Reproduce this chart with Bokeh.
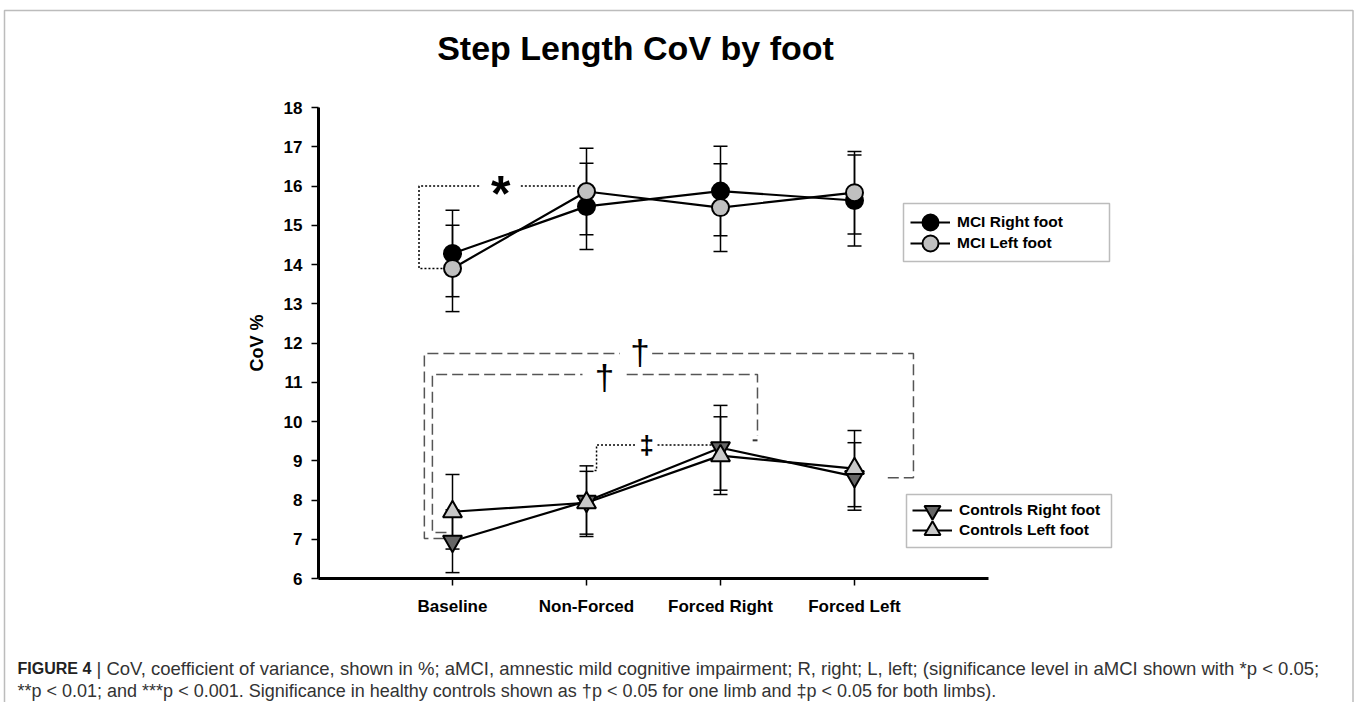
from bokeh.plotting import figure
from bokeh.models import (Range1d, FixedTicker, Whisker, TeeHead, ColumnDataSource,
                          Legend, LegendItem, Label, BoxAnnotation)
from bokeh.embed import file_html
from bokeh.resources import INLINE

# ---------------- data ----------------
categories = ["Baseline", "Non-Forced", "Forced Right", "Forced Left"]
positions = [1, 2, 3, 4]

mci_right = [14.28, 15.48, 15.87, 15.63]
mci_right_err = [1.10, 1.10, 1.14, 1.16]
mci_left = [13.90, 15.86, 15.45, 15.83]
mci_left_err = [1.10, 1.10, 1.12, 1.05]

ctrl_right = [6.95, 7.97, 9.33, 8.60]
ctrl_right_err = [0.80, 0.90, 1.08, 0.86]
ctrl_left = [7.70, 7.93, 9.13, 8.80]
ctrl_left_err = [0.95, 0.80, 0.99, 0.97]

y_ticks = list(range(6, 19))

title_text = "Step Length CoV by foot"
y_label = "CoV %"
caption_head = "FIGURE 4"
caption_line1 = ("| CoV, coefficient of variance, shown in %; aMCI, amnestic mild cognitive impairment; "
                 "R, right; L, left; (significance level in aMCI shown with *p < 0.05;")
caption_line2 = ("**p < 0.01; and ***p < 0.001. Significance in healthy controls shown as "
                 "\u2020p < 0.05 for one limb and \u2021p < 0.05 for both limbs).")

# ---------------- layout (frame = whole canvas, axes at fixed locations) ----------------
FONT = "Liberation Sans"
W, H = 1354, 702
AX_X, AX_Y = 318, 578          # pixel position of the axes origin (x=0, y=6)
PX_X, PX_Y = 134.0, 39.25      # pixels per data unit
X0, X1 = -AX_X / PX_X, (W - AX_X) / PX_X
Y0, Y1 = 6 - (H - AX_Y) / PX_Y, 6 + AX_Y / PX_Y


def dx(px):
    return (px - AX_X) / PX_X


def dy(py):
    return 6 + (AX_Y - py) / PX_Y


p = figure(width=W, height=H, x_range=Range1d(X0, X1), y_range=Range1d(Y0, Y1),
           output_backend="svg", toolbar_location=None, title=None,
           min_border_left=0, min_border_right=0, min_border_top=0, min_border_bottom=0)
p.xgrid.visible = False
p.ygrid.visible = False
p.outline_line_color = None
p.background_fill_color = "white"
p.border_fill_color = "white"

xa = p.xaxis[0]
xa.fixed_location = 6
xa.bounds = (0, 5)
xa.ticker = FixedTicker(ticks=positions)
xa.major_label_overrides = {pos: cat for pos, cat in zip(positions, categories)}
ya = p.yaxis[0]
ya.fixed_location = 0
ya.bounds = (6, 18)
ya.ticker = FixedTicker(ticks=y_ticks)
ya.axis_label = y_label
for ax in (xa, ya):
    ax.axis_line_width = 3
    ax.axis_line_color = "black"
    ax.major_tick_line_width = 1.5
    ax.major_tick_line_color = "black"
    ax.major_tick_out = 7
    ax.major_tick_in = 0
    ax.minor_tick_line_color = None
    ax.major_label_text_font = FONT
    ax.major_label_text_font_size = "17px"
    ax.major_label_text_font_style = "bold"
    ax.major_label_text_color = "black"
xa.major_label_standoff = 11
ya.major_label_standoff = 9
ya.axis_label_text_font = FONT
ya.axis_label_text_font_size = "18px"
ya.axis_label_text_font_style = "bold"
ya.axis_label_text_color = "black"
ya.axis_label_standoff = 14

# ---------------- significance brackets ----------------
DOT = "2 2"
DASH = "11 5"
b0, b1, b2, b3 = positions

# MCI * (dotted)
p.line([b0 - 0.075, b0 - 0.25, b0 - 0.25, b0 + 0.2],
       [mci_left[0], mci_left[0], mci_left[1] + 0.14, mci_left[1] + 0.14],
       line_color="black", line_width=1.5, line_dash=DOT)
p.line([b0 + 0.51, b1 - 0.08], [mci_left[1] + 0.14] * 2,
       line_color="black", line_width=1.5, line_dash=DOT)
p.add_layout(Label(x=b0 + 0.36, y=mci_left[1] + 0.14, text="*", text_font=FONT,
                   text_font_size="50px", text_font_style="bold", text_align="center",
                   text_baseline="middle", y_offset=-8, text_color="black"))

# Controls double dagger (dotted)
p.line([b1 + 0.06, b1 + 0.075, b1 + 0.075, b1 + 0.37],
       [8.75, 8.75, 9.40, 9.40], line_color="black", line_width=1.5, line_dash=DOT)
p.line([b1 + 0.53, b2 - 0.04], [9.40, 9.40], line_color="black", line_width=1.5, line_dash=DOT)
p.add_layout(Label(x=b1 + 0.45, y=9.40, text="\u2021", text_font=FONT, text_font_size="26px",
                   text_font_style="bold", text_align="center", text_baseline="middle",
                   text_color="black"))

# Controls daggers (dashed)
p.line([b0 - 0.06, b0 - 0.21, b0 - 0.21, b1 + 0.25],
       [ctrl_right[0] + 0.07, ctrl_right[0] + 0.07, 11.73, 11.73],
       line_color="#555555", line_width=1.5, line_dash=DASH)
p.line([b1 + 0.49, b3 + 0.44, b3 + 0.44, b3 + 0.24],
       [11.73, 11.73, ctrl_right[3] - 0.03, ctrl_right[3] - 0.03],
       line_color="#555555", line_width=1.5, line_dash=DASH)
p.add_layout(Label(x=b1 + 0.40, y=11.76, text="\u2020", text_font=FONT, text_font_size="35px",
                   text_align="center", text_baseline="middle", text_color="black"))

p.line([b0 - 0.045, b0 - 0.15, b0 - 0.15, b0 + 0.97],
       [7.17, 7.17, 11.2, 11.2], line_color="#555555", line_width=1.5, line_dash=DASH)
p.line([b1 + 0.30, b2 + 0.276, b2 + 0.276], [11.2, 11.2, 9.64],
       line_color="#555555", line_width=1.5, line_dash=DASH)
p.line([b2 + 0.24, b2 + 0.276], [9.52, 9.52], line_color="#333333", line_width=2)
p.add_layout(Label(x=b1 + 0.134, y=11.12, text="\u2020", text_font=FONT, text_font_size="35px",
                   text_align="center", text_baseline="middle", text_color="black"))


# ---------------- error bars ----------------
def add_errors(vals, errs):
    src = ColumnDataSource(dict(x=positions,
                                upper=[v + e for v, e in zip(vals, errs)],
                                lower=[v - e for v, e in zip(vals, errs)]))
    w = Whisker(source=src, base="x", upper="upper", lower="lower",
                line_color="black", line_width=1.5, level="underlay",
                upper_head=TeeHead(size=14, line_width=1.5, line_color="black"),
                lower_head=TeeHead(size=14, line_width=1.5, line_color="black"))
    p.add_layout(w)


for vals, errs in ((mci_right, mci_right_err), (mci_left, mci_left_err),
                   (ctrl_right, ctrl_right_err), (ctrl_left, ctrl_left_err)):
    add_errors(vals, errs)

# ---------------- series ----------------
l_mr = p.line(positions, mci_right, line_color="black", line_width=2.2)
l_ml = p.line(positions, mci_left, line_color="black", line_width=2.2)
l_cr = p.line(positions, ctrl_right, line_color="black", line_width=2.2)
l_cl = p.line(positions, ctrl_left, line_color="black", line_width=2.2)

s_mr = p.scatter(positions, mci_right, marker="circle", size=17, fill_color="black",
                 line_color="black", line_width=2)
s_ml = p.scatter(positions, mci_left, marker="circle", size=17, fill_color="#c0c0c0",
                 line_color="black", line_width=2)
s_cr = p.scatter(positions, ctrl_right, marker="inverted_triangle", size=19, fill_color="#666666",
                 line_color="black", line_width=2)
s_cl = p.scatter(positions, ctrl_left, marker="triangle", size=19, fill_color="#c8c8c8",
                 line_color="black", line_width=2)


# ---------------- legends: a framed box with one single-row legend per entry ----------------
GL = 40  # legend glyph box (marker size = 0.4 * GL)


def legend_box(left, right, top, bottom):
    p.add_layout(BoxAnnotation(left=dx(left), right=dx(right), top=dy(top), bottom=dy(bottom),
                               fill_color="white", fill_alpha=1, line_color="#222222",
                               line_width=1.5))


def legend_row(label, renderers, cx, cy, text_x):
    p.add_layout(Legend(items=[LegendItem(label=label, renderers=renderers)],
                        location=(cx - GL / 2, H - (cy + GL / 2)), orientation="vertical",
                        glyph_width=GL, glyph_height=GL, label_height=GL,
                        spacing=0, padding=0, margin=0, label_standoff=int(text_x - cx - GL / 2),
                        border_line_color=None, background_fill_alpha=0,
                        label_text_font=FONT, label_text_font_size="15.5px",
                        label_text_font_style="bold", label_text_color="black"))


legend_box(903, 1109, 203, 261)
legend_row("MCI Right foot", [l_mr, s_mr], 930, 222, 957)
legend_row("MCI Left foot", [l_ml, s_ml], 930, 243, 957)

legend_box(906, 1111, 494, 547)
legend_row("Controls Right foot", [l_cr, s_cr], 932, 510, 959)
legend_row("Controls Left foot", [l_cl, s_cl], 932, 530, 959)

# ---------------- title, caption, outer box ----------------
p.add_layout(Label(x=dx(635), y=dy(47), text=title_text, text_font=FONT, text_font_size="34px",
                   text_font_style="bold", text_align="center", text_baseline="middle",
                   text_color="black"))
p.add_layout(Label(x=dx(17), y=dy(668), text=caption_head, text_font=FONT, text_font_size="16px",
                   text_font_style="bold", text_align="left", text_baseline="middle",
                   text_color="#222222"))
p.add_layout(Label(x=dx(96), y=dy(668), text=caption_line1, text_font=FONT,
                   text_font_size="18.5px", text_align="left", text_baseline="middle",
                   text_color="#333333"))
p.add_layout(Label(x=dx(17), y=dy(690), text=caption_line2, text_font=FONT,
                   text_font_size="18px", text_align="left", text_baseline="middle",
                   text_color="#333333"))
p.add_layout(BoxAnnotation(left=dx(4), right=dx(W - 1.5), top=dy(10), bottom=dy(H + 40),
                           fill_alpha=0, fill_color=None, line_color="#222222", line_width=1.5,
                           level="overlay"))

open("out.html", "w").write(file_html(p, INLINE))
